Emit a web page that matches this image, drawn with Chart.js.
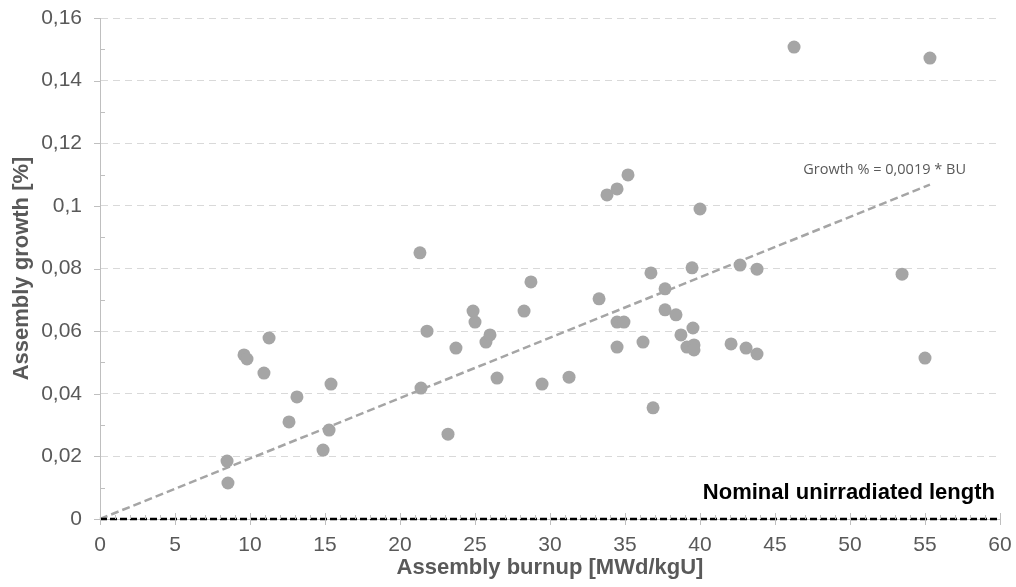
<!DOCTYPE html>
<html>
<head>
<meta charset="utf-8">
<title>Assembly growth vs burnup</title>
<script src="https://cdn.jsdelivr.net/npm/chart.js@4.4.1/dist/chart.umd.min.js"></script>
<style>
  html, body { margin: 0; padding: 0; background: #fff; }
  #growthChart { display: block; }
</style>
</head>
<body>
<canvas id="growthChart" width="1016" height="587"></canvas>
<script>
/* ---------- DATA ---------- */
const burnup = [
    8.47, 8.53, 9.6, 9.8, 11.27, 10.93, 12.6, 13.13, 14.87, 15.27, 15.4,
    21.33, 21.4, 21.8, 23.2, 23.73, 24.87, 25.0, 25.73, 26.0, 26.47,
    28.27, 28.73, 29.47, 31.27, 33.27, 33.8, 34.47, 35.2, 34.47, 34.93,
    34.47, 36.2, 36.73, 36.87, 37.67, 37.67, 38.4, 38.73, 39.13, 39.47,
    39.53, 39.6, 39.6, 40.0, 42.07, 42.67, 43.07, 43.8, 43.8, 46.27,
    53.47, 55.0, 55.33
];
const growth = [
    0.0185, 0.0115, 0.0524, 0.0511, 0.0578, 0.0466, 0.031, 0.039, 0.022, 0.0284, 0.0431,
    0.085, 0.0418, 0.060, 0.0271, 0.0546, 0.0664, 0.0629, 0.0565, 0.0588, 0.045,
    0.0664, 0.0757, 0.0431, 0.0453, 0.0703, 0.1035, 0.1054, 0.1099, 0.0629, 0.0629,
    0.0549, 0.0565, 0.0786, 0.0355, 0.0735, 0.0668, 0.0652, 0.0588, 0.0549, 0.0802,
    0.061, 0.0556, 0.054, 0.099, 0.0559, 0.0811, 0.0546, 0.0798, 0.0527, 0.1507,
    0.0782, 0.0514, 0.1472
];
const trendSlope = 0.00193;
const trendLabel = "Growth % = 0,0019 * BU";
const nominalLabel = "Nominal unirradiated length";
const xTickValues = [0, 5, 10, 15, 20, 25, 30, 35, 40, 45, 50, 55, 60];
const yTickValues = [0, 0.02, 0.04, 0.06, 0.08, 0.1, 0.12, 0.14, 0.16];
const xTitle = "Assembly burnup [MWd/kgU]";
const yTitle = "Assembly growth [%]";

/* ---------- THEME ---------- */
const FONT = "'Liberation Sans', Arial, sans-serif";
const textGray = "#595959";
const axisGray = "#bfbfbf";
const dotGray = "#a5a5a5";

const points = burnup.map((b, i) => ({ x: b, y: growth[i] }));
const bMax = Math.max(...burnup);
const trend = [{ x: 0, y: 0 }, { x: bMax, y: trendSlope * bMax }];
const nominal = [
    { x: xTickValues[0], y: 0 },
    { x: xTickValues[xTickValues.length - 1], y: 0 }
];

const fmt = v => String(+v.toFixed(2)).replace(".", ",");

/* ---------- MINOR TICKS + LABELS ---------- */
const decorPlugin = {
    id: "decor",
    afterDatasetsDraw(chart) {
        const { ctx, scales: { x, y } } = chart;
        ctx.save();
        ctx.strokeStyle = axisGray;
        ctx.lineWidth = 1;
        ctx.setLineDash([]);
        ctx.beginPath();

        const yStep = (yTickValues[1] - yTickValues[0]) / 2;
        const yCount = Math.round(yTickValues[yTickValues.length - 1] / yStep);
        for (let i = 0; i <= yCount; i++) {
            const py = Math.round(y.getPixelForValue(i * yStep)) + 0.5;
            if (i % 2 === 0) { ctx.moveTo(x.left - 6, py); ctx.lineTo(x.left, py); }
            else { ctx.moveTo(x.left, py); ctx.lineTo(x.left + 5, py); }
        }

        const py0 = Math.round(y.getPixelForValue(0));
        const xEnd = xTickValues[xTickValues.length - 1];
        for (let v = 0; v <= xEnd; v++) {
            const px = Math.round(x.getPixelForValue(v)) + 0.5;
            if (v % 5 === 0) { ctx.moveTo(px, py0 - 6); ctx.lineTo(px, py0 + 6); }
            else { ctx.moveTo(px, py0 - 4); ctx.lineTo(px, py0); }
        }
        ctx.stroke();

        // trendline equation
        ctx.fillStyle = textGray;
        ctx.font = "14.5px 'Open Sans', sans-serif";
        ctx.textAlign = "right";
        ctx.textBaseline = "middle";
        ctx.fillText(trendLabel, x.getPixelForValue(bMax) + 36, y.getPixelForValue(trendSlope * bMax) - 15);

        // nominal length label
        ctx.fillStyle = "#000";
        ctx.font = "bold 22px " + FONT;
        ctx.fillText(nominalLabel, x.getPixelForValue(xEnd) - 5, y.getPixelForValue(0) - 26);
        ctx.restore();
    }
};

/* ---------- CHART ---------- */
new Chart(document.getElementById("growthChart"), {
    type: "scatter",
    data: {
        datasets: [
            {
                label: "Nominal",
                type: "line",
                data: nominal,
                borderColor: "#000",
                borderWidth: 2.5,
                borderDash: [7, 3],
                pointRadius: 0,
                clip: false,
                order: 0
            },
            {
                label: "Trend",
                type: "line",
                data: trend,
                borderColor: dotGray,
                borderWidth: 2.5,
                borderDash: [8, 4],
                pointRadius: 0,
                clip: false,
                order: 1
            },
            {
                label: "Assemblies",
                data: points,
                backgroundColor: dotGray,
                borderWidth: 0,
                pointRadius: 6.5,
                order: 2
            }
        ]
    },
    options: {
        responsive: false,
        animation: false,
        layout: { padding: { left: 0, right: 16, top: 18, bottom: 0 } },
        plugins: {
            legend: { display: false },
            tooltip: { enabled: false }
        },
        scales: {
            x: {
                type: "linear",
                min: xTickValues[0],
                max: xTickValues[xTickValues.length - 1],
                afterBuildTicks: s => { s.ticks = xTickValues.map(v => ({ value: v })); },
                afterFit: s => { s.height = 68; s.paddingLeft = 0; s.paddingRight = 0; },
                grid: { display: false, drawTicks: false },
                border: { display: true, color: axisGray, width: 1 },
                ticks: {
                    padding: 14,
                    color: textGray,
                    font: { family: FONT, size: 21 },
                    callback: v => fmt(v)
                },
                title: {
                    display: true,
                    text: xTitle,
                    color: textGray,
                    font: { family: FONT, size: 22, weight: "bold" },
                    padding: { top: 0, bottom: 6 }
                }
            },
            y: {
                type: "linear",
                min: yTickValues[0],
                max: yTickValues[yTickValues.length - 1],
                afterBuildTicks: s => { s.ticks = yTickValues.map(v => ({ value: v })); },
                afterFit: s => { s.width = 100; s.paddingTop = 0; s.paddingBottom = 0; },
                grid: { color: "#d9d9d9", lineWidth: 1, drawTicks: false },
                border: { display: true, color: axisGray, width: 1, dash: [7, 5] },
                ticks: {
                    padding: 18,
                    color: textGray,
                    font: { family: FONT, size: 21 },
                    callback: v => fmt(v)
                },
                title: {
                    display: true,
                    text: yTitle,
                    color: textGray,
                    font: { family: FONT, size: 22, weight: "bold" },
                    padding: { top: 9, bottom: 0 }
                }
            }
        }
    },
    plugins: [decorPlugin]
});
</script>
</body>
</html>
